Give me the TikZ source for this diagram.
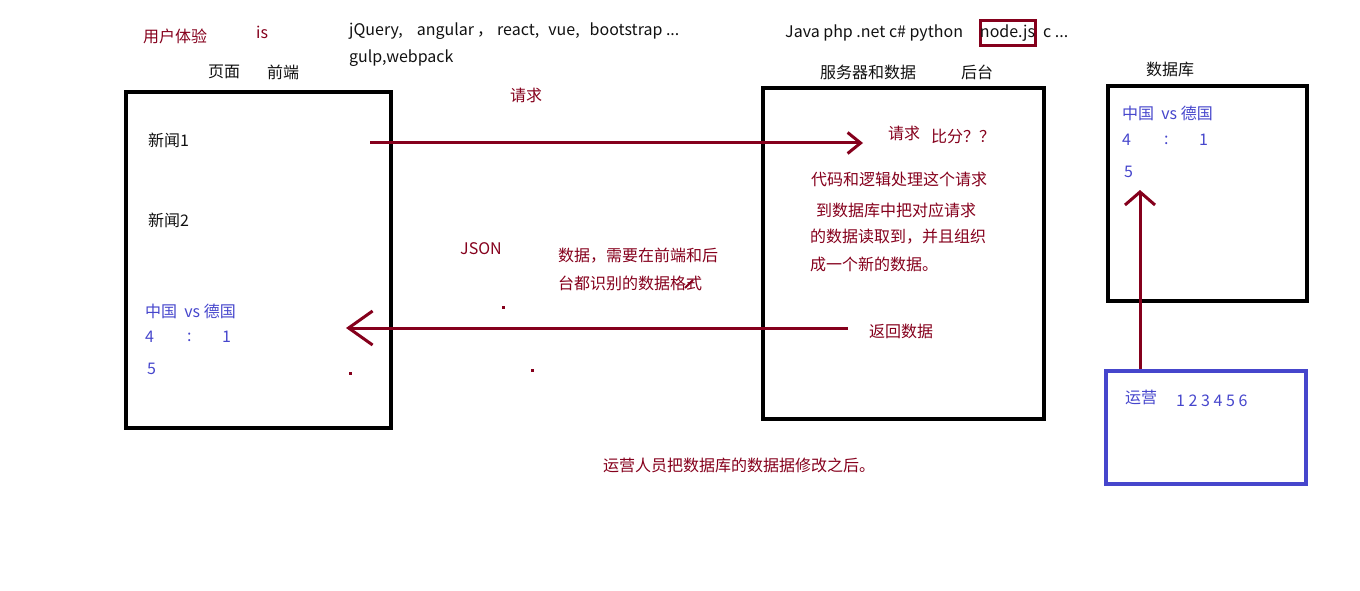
\documentclass[tikz,border=0pt]{standalone}
\usepackage{fontspec}
\setmainfont{Noto Sans CJK SC}
\usepackage{xcolor}
\usepackage{tikz}
\usetikzlibrary{arrows.meta}
\definecolor{wbred}{HTML}{85001C}
\definecolor{wbblue}{HTML}{4646CC}
\definecolor{wbink}{HTML}{111111}
\tikzset{
  frame/.style={draw=black,line width=4pt,fill=none,inner sep=0pt},
  opsframe/.style={draw=wbblue,line width=4.5pt,fill=none,inner sep=0pt},
  jsframe/.style={draw=wbred,line width=3pt,fill=none,inner sep=0pt,minimum width=55pt,minimum height=25pt},
  txt/.style={anchor=west,inner sep=0pt,font=\fontsize{16}{19}\selectfont,text=wbink},
  redtxt/.style={txt,text=wbred},
  bluetxt/.style={txt,text=wbblue},
  flow/.style={draw=wbred,line width=3pt},
  dot/.style={fill=wbred}
}

\begin{document}
\begin{tikzpicture}[x=1pt,y=-1pt]
    \useasboundingbox (0,0) rectangle (1360,591);
    % boxes
    \node[frame,minimum width=265pt,minimum height=336pt] (page) at (258.5,260) {};
    \node[frame,minimum width=281pt,minimum height=331pt] (server) at (903.5,253.5) {};
    \node[frame,minimum width=199pt,minimum height=215pt] (db) at (1207.5,193.5) {};
    \node[opsframe,minimum width=200pt,minimum height=113pt] (ops) at (1206,427.5) {};
    \node[jsframe] (nodejs) at (1007.5,33.5) {};
    % top line
    \node[redtxt] (ux) at (143,36) {用户体验};
    \node[redtxt] (js) at (256,32) {is};
    \node[txt] (libs) at (349,31) {jQuery,\hspace{14pt}angular\hspace{3pt}，\hspace{4pt}react,\hspace{9pt}vue,\hspace{10pt}bootstrap ...};
    \node[txt] (tools) at (349,58) {gulp,webpack};
    \node[txt] (pagelbl) at (208,72) {页面};
    \node[txt] (frontlbl) at (267,72) {前端};
    \node[txt] (langs) at (785,33) {Java php .net c\# python};
    \node[txt,anchor=center] (nodejstxt) at (nodejs.center) {node.js};
    \node[txt] (more) at (1043,33) {c ...};
    \node[txt] (serverlbl) at (820,72) {服务器和数据};
    \node[txt] (backlbl) at (961,72) {后台};
    \node[txt] (dblbl) at (1146,69) {数据库};
    % page content
    \node[txt] (news1) at (148,140) {新闻1};
    \node[txt] (news2) at (148,220) {新闻2};
    \node[bluetxt] (match) at (145,311) {中国\ \ vs 德国};
    \node[bluetxt] (s4) at (145,337) {4};
    \node[bluetxt] (colon) at (187,337) {:};
    \node[bluetxt] (s1) at (222,337) {1};
    \node[bluetxt] (s5) at (147,369) {5};
    % middle
    \node[redtxt] (reqlbl) at (510,95) {请求};
    \node[redtxt] (json) at (460,249) {JSON};
    \node[redtxt] (fmt1) at (558,256) {数据，需要在前端和后};
    \node[redtxt] (fmt2) at (558,283) {台都识别的数据格式};
    \node[redtxt] (ops2) at (603,465) {运营人员把数据库的数据据修改之后。};
    % server content
    \node[redtxt] (req2) at (888,133) {请求};
    \node[redtxt] (score) at (931,136) {比分？？};
    \node[redtxt] (proc1) at (811,179) {代码和逻辑处理这个请求};
    \node[redtxt] (proc2) at (816,210) {到数据库中把对应请求};
    \node[redtxt] (proc3) at (810,237) {的数据读取到，并且组织};
    \node[redtxt] (proc4) at (810,264) {成一个新的数据。};
    \node[redtxt] (ret) at (869,331) {返回数据};
    % db content
    \node[bluetxt] (dbmatch) at (1122,113) {中国\ \ vs 德国};
    \node[bluetxt] (db4) at (1122,140) {4};
    \node[bluetxt] (dbcolon) at (1164,140) {:};
    \node[bluetxt] (db1) at (1199,140) {1};
    \node[bluetxt] (db5) at (1124,172) {5};
    % ops content
    \node[bluetxt] (opslbl) at (1125,397) {运营};
    \node[bluetxt] (opsnums) at (1176,401) {1 2 3 4 5 6};
    % connectors
    \coordinate (reqa) at (370,143);
    \coordinate (reqb) at (863,143);
    \coordinate (reta) at (848,328);
    \coordinate (retb) at (346,328);
    \coordinate (opsup) at (1140,190);
    \draw[flow,-{Straight Barb[length=13pt,width=21pt]}] (reqa)--(reqb);
    \draw[flow,-{Straight Barb[length=24pt,width=34pt]}] (reta)--(retb);
    \draw[flow,-{Straight Barb[length=13pt,width=30pt]}] (ops.north -| opsup)--(opsup);
    % stray marks
    \fill[dot] (502,306) rectangle (505,309);
    \fill[dot] (349,372) rectangle (352,375);
    \fill[dot] (531,369) rectangle (534,372);
    \draw[wbred,line width=2pt] (685,288)--(693,280);
  \end{tikzpicture}
\end{document}
